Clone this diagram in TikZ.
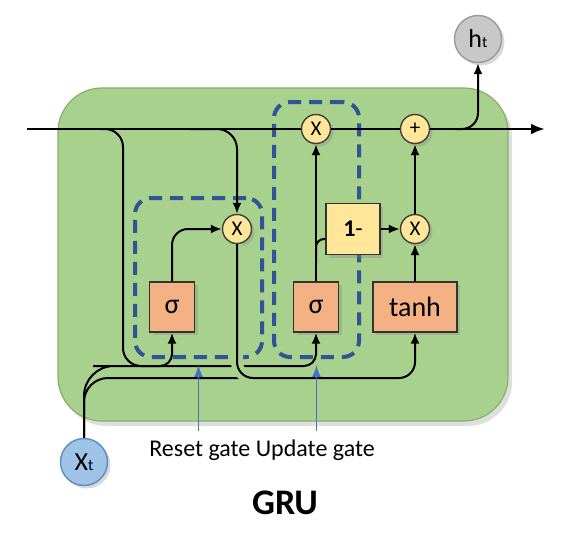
\documentclass[tikz,border=0pt]{standalone}
\usepackage{fontspec}
\setmainfont{Carlito}
\usepackage{tikz}
\usetikzlibrary{arrows.meta,shadows}

\definecolor{cellgreen}{HTML}{A9D18E}
\definecolor{cellborder}{HTML}{86B06A}
\definecolor{fnorange}{HTML}{F4B183}
\definecolor{opyellow}{HTML}{FFE699}
\definecolor{gateblue}{HTML}{2F5597}
\definecolor{arrowblue}{HTML}{4472C4}
\definecolor{xblue}{HTML}{9DC3E6}
\definecolor{xborder}{HTML}{5B8DC4}
\definecolor{hgray}{HTML}{C8C8C8}
\definecolor{hborder}{HTML}{9A9A9A}

\newcommand{\smallsub}[1]{{\fontsize{8pt}{9pt}\selectfont #1}}

\begin{document}
\begin{tikzpicture}
        [
            x = 0.5pt, y = -0.5pt,
            >={Latex[length=5.5pt,width=4.5pt]},
            shade/.style = {drop shadow={opacity=0.3, shadow xshift=1.5pt, shadow yshift=-1.5pt}},
            cellbox/.style = {draw=cellborder, fill=cellgreen, rounded corners=22pt, line width=0.6pt,
                    drop shadow={opacity=0.25, shadow xshift=2pt, shadow yshift=-2.5pt}},
            gatebox/.style = {draw=gateblue, line width=2pt, rounded corners=8pt, dash pattern=on 6.5pt off 4pt},
            gatefn/.style = {shade, draw=black!80, fill=fnorange, line width=0.7pt, minimum width=22.5pt,
                    minimum height=25pt, inner sep=0pt, font=\fontsize{14pt}{16pt}\selectfont},
            opbox/.style = {shade, draw=black!80, fill=opyellow, line width=0.7pt, minimum width=27pt,
                    minimum height=25.5pt, inner sep=0pt, font=\fontsize{12pt}{14pt}\selectfont},
            op/.style = {shade, circle, draw=black!75, fill=opyellow, line width=0.7pt, minimum size=14.5pt,
                    inner sep=0pt, font=\fontsize{10.5pt}{12pt}\selectfont},
            io/.style = {shade, circle, line width=0.7pt, minimum size=23.5pt, inner sep=0pt,
                    font=\fontsize{13pt}{15pt}\selectfont},
            wire/.style = {draw=black, line width=1pt},
            mainwire/.style = {draw=black, line width=1.4pt, >={Latex[length=7pt,width=5.5pt]}},
            gatearrow/.style = {draw=arrowblue, line width=0.75pt, ->, >={Latex[length=6pt,width=4.5pt]},
                    shorten >=3pt, shorten <=1pt},
        ]

        \useasboundingbox (0,0) rectangle (572,546);

        \node[cellbox, minimum width=225pt, minimum height=166.5pt] (cell) at (283,254.5) {};

        \node[gatebox, minimum width=63.5pt, minimum height=79.5pt] (resetgate) at (198.5,277.5) {};
        \node[gatebox, minimum width=42.5pt, minimum height=127.5pt] (updategate) at (316.5,229.5) {};

        \node[gatefn] (rsig) at (172,307) {σ};
        \node[gatefn] (usig) at (316,307) {σ};
        \node[gatefn, minimum width=42pt] (tanh) at (415,307) {tanh};
        \node[opbox] (oneminus) at (353,229) {\textbf{1}-};
        \node[op] (rmul) at (237,229) {X};
        \node[op] (umul) at (316,129) {X};
        \node[op] (mmul) at (415,229) {X};
        \node[op] (add) at (415,129) {+};
        \node[io, fill=xblue, draw=xborder] (xt) at (84,462) {X\smallsub{t}};
        \node[io, fill=hgray, draw=hborder] (ht) at (478,39) {h\smallsub{t}};

        \node[font=\fontsize{12pt}{14pt}\selectfont] (gatelabel) at (262,450) {Reset gate Update gate};
        \node[font=\bfseries\fontsize{18pt}{20pt}\selectfont] (title) at (285,503) {GRU};

        \coordinate (hin) at (27,129);
        \coordinate (hout) at (545,129);
        \coordinate (hbranchA) at (100,129);
        \coordinate (hbranchB) at (190,129);
        \coordinate (hbranchC) at (456,129);
        \coordinate (hleft) at (123,366);
        \coordinate (upbus) at (0,366);
        \coordinate (lowbus) at (0,378);
        \coordinate (ubranch) at (316,262);

        \draw[mainwire] (hin) -- (umul);
        \draw[mainwire] (umul) -- (add);
        \draw[mainwire,->] (add) -- (hout);

        \draw[wire, rounded corners=9pt] (hbranchA) -| (hleft) -- (rsig |- upbus);
        \draw[wire,->, rounded corners=10pt] (hbranchB) -| (rmul);
        \draw[wire,->] (xt) [rounded corners=15pt] |- (hleft) [rounded corners=6pt] -| (rsig);
        \draw[wire,->] (xt) [rounded corners=12pt] |- (rmul |- lowbus) [rounded corners=8pt] -| (tanh);
        \draw[wire,->] (rsig |- upbus) [rounded corners=6pt] -| (usig);
        \draw[wire, rounded corners=8pt, preaction={draw=cellgreen, line width=6pt}] (rmul) |- ([xshift=20pt]rmul |- lowbus);
        \draw[wire,->, rounded corners=8pt] (rsig) |- (rmul);
        \draw[wire,->] (usig) -- (umul);
        \draw[wire, rounded corners=4pt] (ubranch) |- ([yshift=-5pt]oneminus.west);
        \draw[wire,->] (oneminus) -- (mmul);
        \draw[wire,->] (tanh) -- (mmul);
        \draw[wire,->] (mmul) -- (add);
        \draw[wire,->, rounded corners=8pt] (hbranchC) -| (ht);

        \draw[gatearrow] (resetgate.south |- gatelabel.north) -- (resetgate.south);
        \draw[gatearrow] (updategate.south |- gatelabel.north) -- (updategate.south);

    \end{tikzpicture}
\end{document}
